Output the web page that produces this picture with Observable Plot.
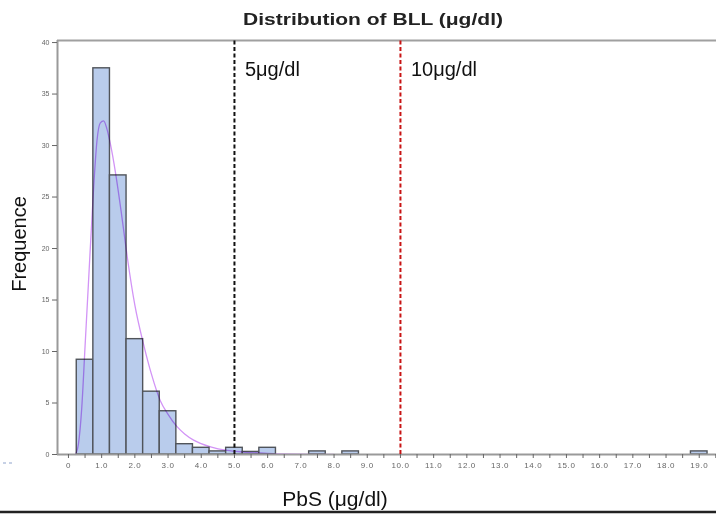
<!DOCTYPE html>
<html>
<head>
<meta charset="utf-8">
<script src="https://cdn.jsdelivr.net/npm/d3@7"></script>
<script src="https://cdn.jsdelivr.net/npm/@observablehq/plot@0.6"></script>
<style>
  html, body { margin: 0; padding: 0; background: #fff; }
  #chart svg { display: block; font-family: "Liberation Sans", Arial, sans-serif; }
</style>
</head>
<body>
<div id="chart"></div>
<script>
// Histogram bins (centre of 0.5-wide bins) and their frequencies
const binCenters = [0.5, 1.0, 1.5, 2.0, 2.5, 3.0, 3.5, 4.0, 4.5, 5.0, 5.5, 6.0, 7.5, 8.5, 19.0];
const binValues  = [9.2, 37.5, 27.1, 11.2, 6.1, 4.2, 1.0, 0.65, 0.3, 0.65, 0.25, 0.65, 0.3, 0.3, 0.3];
const binWidth = 0.5;

// Fitted density curve
const curveX = [0.21, 0.3, 0.4, 0.5, 0.6, 0.76, 0.86, 0.96, 1.06, 1.16, 1.26, 1.42, 1.6, 1.77, 2.0, 2.27, 2.5, 2.77, 3.0, 3.27, 3.5, 3.77, 4.28, 4.78, 5.28, 6.0, 7.0, 8.0];
const curveY = [0, 1.0, 4.5, 10.5, 16.5, 26, 30.5, 32.2, 32.4, 31.6, 30.2, 27.3, 23.3, 19.2, 14.5, 10.6, 7.8, 5.2, 3.9, 2.7, 2.0, 1.4, 0.75, 0.4, 0.24, 0.1, 0.03, 0.01];

// Reference thresholds
const thresholds = [5, 10];
const thresholdLabels = ["5μg/dl", "10μg/dl"];
const thresholdColors = ["#111111", "#c81414"];

// Axis ticks
const yTicks = [0, 5, 10, 15, 20, 25, 30, 35, 40];
const xTicks = d3.range(0, 19.51, 0.5);
const xTickLabel = v => Number.isInteger(v) ? (v === 0 ? "0" : v.toFixed(1)) : "";

const titleText = "Distribution of BLL (μg/dl)";
const xLabel = "PbS (μg/dl)";
const yLabel = "Frequence";

const bars = binCenters.map((c, i) => ({x1: c - binWidth / 2, x2: c + binWidth / 2, v: binValues[i]}));
const curve = curveX.map((x, i) => ({x, y: curveY[i]}));
const thr = thresholds.map((t, i) => ({t, label: thresholdLabels[i], color: thresholdColors[i]}));

const xMin = -0.33, xMax = 19.52, yMax = 40.2;

const plot = Plot.plot({
  width: 716,
  height: 515,
  marginLeft: 57,
  marginRight: 0,
  marginTop: 40,
  marginBottom: 61,
  style: {background: "#fff", fontFamily: "Liberation Sans, Arial, sans-serif"},
  x: {domain: [xMin, xMax]},
  y: {domain: [0, yMax]},
  marks: [
    Plot.rectY(bars, {x1: "x1", x2: "x2", y: "v", fill: "#b9ccec", stroke: "#50545a", strokeWidth: 1.4}),
    Plot.line(curve, {x: "x", y: "y", stroke: "#d294f6", strokeWidth: 1.3, curve: "monotone-x", mixBlendMode: "multiply"}),
    // frame lines
    Plot.ruleY([0], {stroke: "#9a9a9a", strokeWidth: 2}),
    Plot.ruleY([yMax], {stroke: "#a0a0a0", strokeWidth: 2}),
    Plot.ruleX([xMin], {stroke: "#9a9a9a", strokeWidth: 2, y1: 0, y2: yMax}),
    // threshold lines
    Plot.ruleX(thr, {x: "t", y1: 0, y2: yMax, stroke: "color", strokeWidth: 2, strokeDasharray: "4,2.5"}),
    Plot.axisY({ticks: yTicks, tickSize: 5, tickPadding: 3, fontSize: 7, color: "#666", label: null}),
    Plot.axisX({ticks: xTicks, tickFormat: xTickLabel, tickSize: 4, tickPadding: 4, fontSize: 8, color: "#666", label: null})
  ]
});

const svg = d3.select(plot);
const xs = plot.scale("x"), ys = plot.scale("y");

// threshold labels
svg.selectAll("text.thr").data(thr).join("text")
  .attr("class", "thr")
  .attr("x", d => xs.apply(d.t) + 11)
  .attr("y", 76)
  .attr("text-anchor", "start")
  .attr("font-size", 20)
  .attr("fill", "#111")
  .text(d => d.label);

// title
svg.append("text")
  .attr("x", 373).attr("y", 25)
  .attr("text-anchor", "middle")
  .attr("font-size", 17)
  .attr("font-weight", "bold")
  .attr("fill", "#222")
  .attr("textLength", 260)
  .attr("lengthAdjust", "spacingAndGlyphs")
  .text(titleText);

// y label
svg.append("text")
  .attr("transform", "translate(26,244) rotate(-90)")
  .attr("text-anchor", "middle")
  .attr("font-size", 20)
  .attr("fill", "#111")
  .text(yLabel);

// x label
svg.append("text")
  .attr("x", 335).attr("y", 506)
  .attr("text-anchor", "middle")
  .attr("font-size", 21)
  .attr("fill", "#111")
  .text(xLabel);

// bottom border line
svg.append("line")
  .attr("x1", 0).attr("x2", 716).attr("y1", 512).attr("y2", 512)
  .attr("stroke", "#222").attr("stroke-width", 2.5);

// small dashed mark at bottom-left
svg.append("line")
  .attr("x1", 3).attr("x2", 15).attr("y1", 463).attr("y2", 463)
  .attr("stroke", "#8fa3cc").attr("stroke-width", 1).attr("stroke-dasharray", "3,3");

svg.selectAll("[aria-label='x-axis tick label']").attr("letter-spacing", 0.6);

document.getElementById("chart").appendChild(plot);
</script>
</body>
</html>
